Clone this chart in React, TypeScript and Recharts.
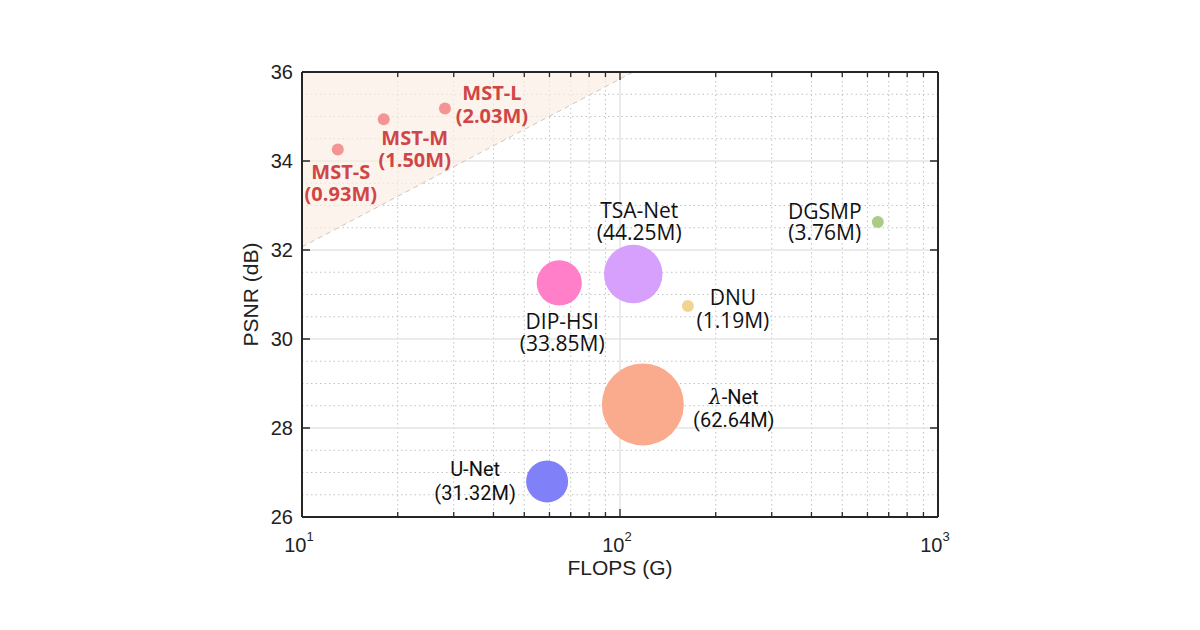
import {
  ComposedChart,
  XAxis,
  YAxis,
  ZAxis,
  CartesianGrid,
  Scatter,
  Area,
  ReferenceLine,
  Label,
} from 'recharts';

// models, FLOPS (G), PSNR (dB), params (M)
const models = ['MST-S', 'MST-M', 'MST-L', 'DIP-HSI', 'TSA-Net', 'DNU', 'DGSMP', 'λ-Net', 'U-Net'];
const flops = [12.96, 18.07, 28.15, 64.42, 110.06, 163.48, 646.65, 117.98, 58.99];
const psnr = [34.26, 34.94, 35.18, 31.26, 31.46, 30.74, 32.63, 28.53, 26.8];
const params = [0.93, 1.5, 2.03, 33.85, 44.25, 1.19, 3.76, 62.64, 31.32];

// shaded "better" region: lower edge goes from (10, 32.07) to (110, 36)
const regionFlops = [10, 110];
const regionLow = [32.07, 36];

const xMajorTicks = [10, 100, 1000];
const xMinorTicks = [20, 30, 40, 50, 60, 70, 80, 90, 200, 300, 400, 500, 600, 700, 800, 900];
const yMajorTicks = [26, 28, 30, 32, 34, 36];
const yMinorGrid = [26.5, 27, 27.5, 28.5, 29, 29.5, 30.5, 31, 31.5, 32.5, 33, 33.5, 34.5, 35, 35.5];

const points = models.map((name, i) => ({ name, flops: flops[i], psnr: psnr[i], params: params[i] }));
const region = regionFlops.map((f, i) => ({ flops: f, band: [regionLow[i], 36] }));
const xAllTicks = [...xMajorTicks, ...xMinorTicks].sort((a, b) => a - b);

const colors: Record<string, string> = {
  'MST-S': '#f59494',
  'MST-M': '#f59494',
  'MST-L': '#f59494',
  'DIP-HSI': '#ff80c9',
  'TSA-Net': '#d7a0fc',
  DNU: '#f2d394',
  DGSMP: '#a9cd86',
  'λ-Net': '#fbab8d',
  'U-Net': '#8080f8',
};

// label offsets from bubble centre (first line), second line sits `gap` below
const placement: Record<string, { dx: number; dy: number; gap: number }> = {
  'MST-S': { dx: 3, dy: 22, gap: 22 },
  'MST-M': { dx: 31, dy: 18, gap: 22 },
  'MST-L': { dx: 47, dy: -16, gap: 23 },
  'DIP-HSI': { dx: 3, dy: 38, gap: 22 },
  'TSA-Net': { dx: 6, dy: -64, gap: 22 },
  DNU: { dx: 45, dy: -9, gap: 23 },
  DGSMP: { dx: -53, dy: -11, gap: 21 },
  'λ-Net': { dx: 91, dy: -7, gap: 23 },
  'U-Net': { dx: -72, dy: -12, gap: 24 },
};

const AXIS = '#262626';
const SANS = 'Liberation Sans, Arial, sans-serif';

const Bubble = (props: any) => {
  const { cx, cy, size, payload } = props;
  const name = payload.name as string;
  const p = placement[name];
  const isMst = name.startsWith('MST');
  const narrow = name === 'λ-Net' || name === 'U-Net';
  const r = Math.max(size, 6);
  const tx = cx + p.dx;
  return (
    <g>
      <circle cx={cx} cy={cy} r={r} fill={colors[name]} />
      <text
        x={tx}
        y={cy + p.dy}
        textAnchor="middle"
        dominantBaseline="central"
        fontFamily={narrow ? 'Roboto, sans-serif' : 'Open Sans, sans-serif'}
        fontWeight={isMst ? 700 : 400}
        fontSize={isMst || narrow ? 20 : 21}
        fill={isMst ? '#d04646' : '#111'}
      >
        <tspan x={tx}>
          {name === 'λ-Net' ? (
            <>
              <tspan fontStyle="italic" fontFamily="DejaVu Serif, serif">λ</tspan>-Net
            </>
          ) : (
            name
          )}
        </tspan>
        <tspan x={tx} dy={p.gap}>
          ({payload.params.toFixed(2)}M)
        </tspan>
      </text>
    </g>
  );
};

const BottomTick = (props: any) => {
  const { x, y, payload } = props;
  const major = xMajorTicks.includes(payload.value);
  return (
    <g>
      <line x1={x} x2={x} y1={y} y2={y - (major ? 8 : 5)} stroke={AXIS} strokeWidth={1.3} />
      {major && (
        <text x={x - 3} y={y + 35} textAnchor="middle" fontFamily={SANS} fontSize={20} fill="#222">
          10
          <tspan dy={-11} fontSize={13}>
            {Math.round(Math.log10(payload.value))}
          </tspan>
        </text>
      )}
    </g>
  );
};

const TopTick = (props: any) => {
  const { x, y, payload } = props;
  const major = xMajorTicks.includes(payload.value);
  return <line x1={x} x2={x} y1={y} y2={y + (major ? 8 : 5)} stroke={AXIS} strokeWidth={1.3} />;
};

const LeftTick = (props: any) => {
  const { x, y, payload } = props;
  return (
    <g>
      <line x1={x} x2={x + 8} y1={y} y2={y} stroke={AXIS} strokeWidth={1.5} />
      <text x={x - 9} y={y} textAnchor="end" dominantBaseline="central" fontFamily={SANS} fontSize={20} fill="#222">
        {payload.value}
      </text>
    </g>
  );
};

const RightTick = (props: any) => {
  const { x, y } = props;
  return <line x1={x} x2={x - 8} y1={y} y2={y} stroke={AXIS} strokeWidth={1.5} />;
};

export default function App() {
  return (
    <div style={{ position: 'absolute', left: 0, top: 0, width: 1200, height: 630, background: '#fff' }}>
      <ComposedChart
        width={1200}
        height={630}
        data={region}
        margin={{ top: 62, right: 252, bottom: 53, left: 242 }}
      >
        <Area
          dataKey="band"
          type="linear"
          fill="#f9ece2"
          fillOpacity={0.65}
          stroke="none"
          isAnimationActive={false}
        />
        <CartesianGrid
          horizontalValues={yMinorGrid}
          verticalValues={xMinorTicks}
          stroke="#c2c2c2"
          strokeDasharray="1.5 3"
        />
        <CartesianGrid
          horizontalValues={[28, 30, 32, 34]}
          verticalValues={[100]}
          stroke="#e4e4e4"
          strokeWidth={1.5}
        />
        <XAxis
          dataKey="flops"
          type="number"
          scale="log"
          domain={[10, 1000]}
          allowDataOverflow
          ticks={xAllTicks}
          interval={0}
          tickSize={0}
          tickMargin={0}
          tickLine={false}
          tick={(p: any) => <BottomTick {...p} />}
          axisLine={{ stroke: AXIS, strokeWidth: 2 }}
          height={60}
        >
          <Label
            value="FLOPS (G)"
            position="insideBottom"
            offset={2}
            style={{ fontFamily: SANS, fontSize: 21, fill: '#222' }}
          />
        </XAxis>
        <XAxis
          xAxisId="top"
          orientation="top"
          dataKey="flops"
          type="number"
          scale="log"
          domain={[10, 1000]}
          allowDataOverflow
          ticks={xAllTicks}
          interval={0}
          tickSize={0}
          tickMargin={0}
          tickLine={false}
          tick={(p: any) => <TopTick {...p} />}
          axisLine={{ stroke: AXIS, strokeWidth: 2 }}
          height={10}
        />
        <YAxis
          dataKey="psnr"
          type="number"
          domain={[26, 36]}
          allowDataOverflow
          ticks={yMajorTicks}
          interval={0}
          tickSize={0}
          tickMargin={0}
          tickLine={false}
          tick={(p: any) => <LeftTick {...p} />}
          axisLine={{ stroke: AXIS, strokeWidth: 2 }}
          width={60}
        >
          <Label
            value="PSNR (dB)"
            angle={-90}
            position="insideLeft"
            offset={9}
            style={{ fontFamily: SANS, fontSize: 21, fill: '#222', textAnchor: 'middle' }}
          />
        </YAxis>
        <YAxis
          yAxisId="right"
          orientation="right"
          type="number"
          domain={[26, 36]}
          allowDataOverflow
          ticks={yMajorTicks}
          interval={0}
          tickSize={0}
          tickMargin={0}
          tickLine={false}
          tick={(p: any) => <RightTick {...p} />}
          axisLine={{ stroke: AXIS, strokeWidth: 2 }}
          width={10}
        />
        <ZAxis dataKey="params" type="number" domain={[0, 62.64]} range={[1, 41]} />
        <ReferenceLine
          segment={[
            { x: regionFlops[0], y: regionLow[0] },
            { x: regionFlops[1], y: regionLow[1] },
          ]}
          stroke="#cfc7c0"
          strokeDasharray="5 4"
          strokeWidth={1}
        />
        <Scatter data={points} dataKey="psnr" shape={(p: any) => <Bubble {...p} />} isAnimationActive={false} />
      </ComposedChart>
    </div>
  );
}
